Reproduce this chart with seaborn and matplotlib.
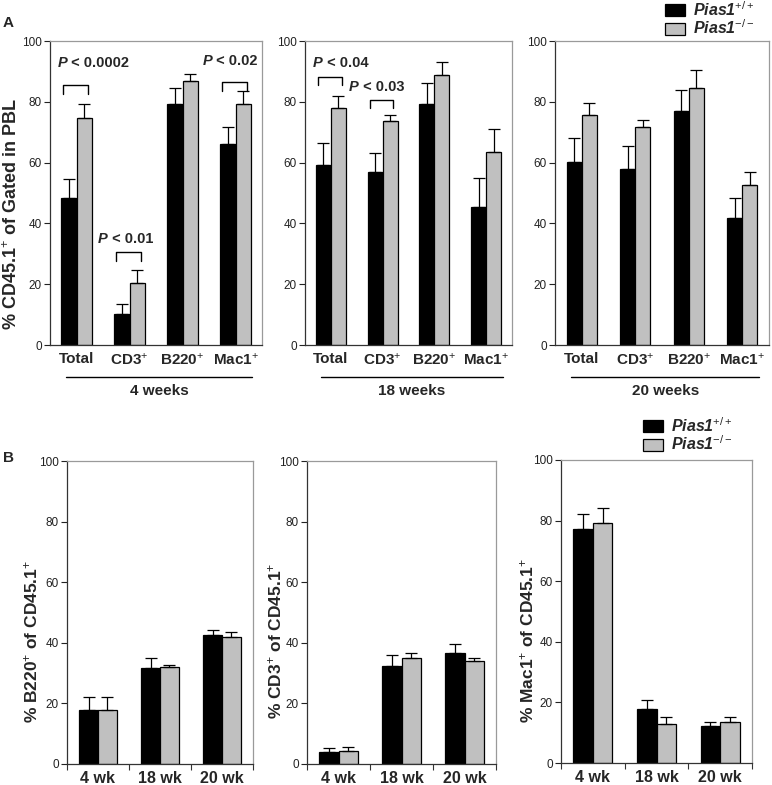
import numpy as np
import pandas as pd
import matplotlib
matplotlib.use("Agg")
import matplotlib.pyplot as plt
import matplotlib.transforms as mtransforms
from matplotlib.patches import Patch
import seaborn as sns

# === Data ===
genotypes = ["wt", "ko"]
cats_a = ["Total", "CD3$^{+}$", "B220$^{+}$", "Mac1$^{+}$"]

wk4_wt = [48.2, 10.1, 79.3, 66.1]
wk4_wt_err = [6.3, 3.4, 5.1, 5.6]
wk4_ko = [74.6, 20.3, 86.8, 79.3]
wk4_ko_err = [4.6, 4.4, 2.5, 4.4]

wk18_wt = [59.3, 57.0, 79.3, 45.5]
wk18_wt_err = [7.2, 6.0, 6.8, 9.4]
wk18_ko = [78.0, 73.6, 88.7, 63.6]
wk18_ko_err = [3.9, 2.0, 4.4, 7.6]

wk20_wt = [60.1, 57.9, 77.1, 41.7]
wk20_wt_err = [8.0, 7.5, 6.8, 6.8]
wk20_ko = [75.6, 71.8, 84.6, 52.6]
wk20_ko_err = [4.0, 2.2, 5.7, 4.4]

cats_b = ["4 wk", "18 wk", "20 wk"]
b220_wt = [17.8, 31.7, 42.6]
b220_wt_err = [4.4, 3.2, 1.6]
b220_ko = [17.8, 32.1, 41.8]
b220_ko_err = [4.4, 0.6, 1.9]

cd3_wt = [4.1, 32.5, 36.7]
cd3_wt_err = [1.1, 3.5, 2.9]
cd3_ko = [4.4, 34.9, 34.1]
cd3_ko_err = [1.2, 1.7, 1.0]

mac1_wt = [77.3, 17.9, 12.1]
mac1_wt_err = [5.0, 3.0, 1.5]
mac1_ko = [79.1, 13.0, 13.6]
mac1_ko_err = [5.2, 2.1, 1.6]

legend_labels = [r"Pias1$^{\mathit{+/+}}$", r"Pias1$^{\mathit{-/-}}$"]

BLACK = "#000000"
GREY = "#c0c0c0"

# === Style ===
sns.set_style("white")
plt.rcParams["font.family"] = ["Liberation Sans", "DejaVu Sans"]
plt.rcParams["mathtext.fontset"] = "custom"
plt.rcParams["mathtext.rm"] = "Liberation Sans"
plt.rcParams["mathtext.it"] = "Liberation Sans:italic"
plt.rcParams["mathtext.bf"] = "Liberation Sans:bold"

W, H = 772, 785
fig = plt.figure(figsize=(W / 100, H / 100), dpi=100)


def px_axes(x0, y0, x1, y1):
    return fig.add_axes([x0 / W, 1 - y1 / H, (x1 - x0) / W, (y1 - y0) / H])


def bar_panel(ax, cats, wt, wt_err, ko, ko_err, width, xsize):
    n = len(cats)
    df = pd.DataFrame({
        "cat": cats * 2,
        "geno": [genotypes[0]] * n + [genotypes[1]] * n,
        "val": wt + ko,
    })
    sns.barplot(data=df, x="cat", y="val", hue="geno", order=cats,
                hue_order=genotypes, palette={"wt": BLACK, "ko": GREY},
                edgecolor="black", linewidth=0.9, width=width,
                errorbar=None, legend=False, ax=ax)
    # one-sided (upper) error bars
    for cont, err in zip(ax.containers, [wt_err, ko_err]):
        xs = [b.get_x() + b.get_width() / 2 for b in cont]
        ys = [b.get_height() for b in cont]
        ax.errorbar(xs, ys, yerr=[np.zeros(n), err], fmt="none",
                    ecolor="black", elinewidth=0.9, capsize=4, capthick=0.9)
    ax.set_ylim(0, 100)
    ax.set_xlim(-0.5, n - 0.5)
    ax.set_yticks(range(0, 101, 20))
    ax.set_xlabel("")
    ax.set_ylabel("")
    ax.tick_params(axis="y", direction="out", length=4, width=0.8,
                   labelsize=8.5, pad=2, colors="#222222", left=True)
    ax.tick_params(axis="x", length=0, labelsize=xsize, pad=5)
    for lab in ax.get_xticklabels():
        lab.set_fontweight("bold")
    for side in ["left", "bottom"]:
        ax.spines[side].set_color("#333333")
        ax.spines[side].set_linewidth(0.9)
    for side in ["top", "right"]:
        ax.spines[side].set_color("#9a9a9a")
        ax.spines[side].set_linewidth(0.9)


def group_label(ax, text):
    tr = mtransforms.blended_transform_factory(ax.transData, ax.transAxes)
    ax.plot([-0.2, 3.32], [-0.105, -0.105], color="black", lw=1.0,
            transform=tr, clip_on=False)
    ax.text(1.56, -0.15, text, transform=tr, ha="center", va="center",
            fontsize=11, fontweight="bold")


# === Panel A ===
axA1 = px_axes(50, 41, 262, 345)
axA2 = px_axes(305, 41, 512, 345)
axA3 = px_axes(555, 41, 769, 345)

bar_panel(axA1, cats_a, wk4_wt, wk4_wt_err, wk4_ko, wk4_ko_err, 0.57, 11)
bar_panel(axA2, cats_a, wk18_wt, wk18_wt_err, wk18_ko, wk18_ko_err, 0.58, 11)
bar_panel(axA3, cats_a, wk20_wt, wk20_wt_err, wk20_ko, wk20_ko_err, 0.57, 11)

axA1.set_ylabel("% CD45.1$^{+}$ of Gated in PBL", fontsize=13, fontweight="bold")
axA1.yaxis.set_label_coords(-0.135, 0.43)

group_label(axA1, "4 weeks")
group_label(axA2, "18 weeks")
group_label(axA3, "20 weeks")

# significance brackets: (axis, category index, bracket y, text, text x, text y)
p_marks = [
    (axA1, 0, 85.5, " < 0.0002", -0.36, 92.7),
    (axA1, 1, 30.5, " < 0.01", 0.41, 34.8),
    (axA1, 3, 86.4, " < 0.02", 2.38, 93.5),
    (axA2, 0, 88.2, " < 0.04", -0.35, 92.9),
    (axA2, 1, 80.6, " < 0.03", 0.35, 84.9),
]
fig.canvas.draw()
for ax, i, y, label, tx, ty in p_marks:
    x0, x1 = i - 0.25, i + 0.21
    ax.plot([x0, x0, x1, x1], [y - 2.8, y, y, y - 2.8], color="black",
            lw=1.0, clip_on=False)
    t1 = ax.text(tx, ty, "P", ha="left", va="center", fontsize=10.5,
                 fontweight="bold", fontstyle="italic")
    bb = t1.get_window_extent(renderer=fig.canvas.get_renderer())
    x_end = ax.transData.inverted().transform((bb.x1, bb.y0))[0]
    ax.text(x_end, ty, label, ha="left", va="center", fontsize=10.5,
            fontweight="bold")

fig.text(3 / W, 1 - 23 / H, "A", fontsize=11, fontweight="bold",
         va="center", ha="left")

legend_kw = dict(loc="upper left", frameon=False,
                 prop={"size": 11.5, "weight": "bold", "style": "italic"},
                 handlelength=1.25, handleheight=0.75, handletextpad=0.5,
                 labelspacing=0.0, borderpad=0.0, borderaxespad=0.0)

hA = [Patch(facecolor=BLACK, edgecolor="black", lw=0.9),
      Patch(facecolor=GREY, edgecolor="black", lw=0.9)]
fig.legend(hA, legend_labels, bbox_to_anchor=(665 / W, 1 - 0 / H), **legend_kw)

# === Panel B ===
axB1 = px_axes(67, 461, 253, 764)
axB2 = px_axes(307, 461, 496, 764)
axB3 = px_axes(561, 460, 752, 763)

bar_panel(axB1, cats_b, b220_wt, b220_wt_err, b220_ko, b220_ko_err, 0.61, 11.5)
bar_panel(axB2, cats_b, cd3_wt, cd3_wt_err, cd3_ko, cd3_ko_err, 0.61, 11.5)
bar_panel(axB3, cats_b, mac1_wt, mac1_wt_err, mac1_ko, mac1_ko_err, 0.61, 11.5)

for ax, lab, xoff in [
    (axB1, "% B220$^{+}$ of CD45.1$^{+}$", -0.145),
    (axB2, "% CD3$^{+}$ of CD45.1$^{+}$", -0.122),
    (axB3, "% Mac1$^{+}$ of CD45.1$^{+}$", -0.13),
]:
    ax.set_ylabel(lab, fontsize=12.5, fontweight="bold")
    ax.yaxis.set_label_coords(xoff, 0.405)
    ax.set_xticks([-0.5, 0.5, 1.5, 2.5], minor=True)
    ax.tick_params(axis="x", which="minor", direction="out", length=4,
                   width=0.8, bottom=True, color="#333333")

fig.text(3 / W, 1 - 458 / H, "B", fontsize=11, fontweight="bold",
         va="center", ha="left")

hB = [Patch(facecolor=BLACK, edgecolor="black", lw=0.9),
      Patch(facecolor=GREY, edgecolor="black", lw=0.9)]
fig.legend(hB, legend_labels, bbox_to_anchor=(643 / W, 1 - 416 / H), **legend_kw)

fig.savefig("out.png", dpi=100)
